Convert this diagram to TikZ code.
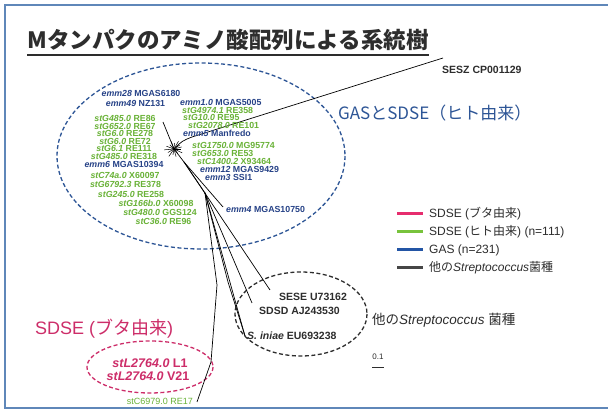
\documentclass[tikz,border=0pt]{standalone}
\usepackage{fontspec}
\setmainfont{Liberation Sans}
\newfontfamily\jp{Noto Sans CJK JP}
\definecolor{gtxt}{RGB}{105,178,55}
\definecolor{btxt}{RGB}{38,66,135}
\definecolor{pk}{RGB}{205,45,105}
\definecolor{ellc}{RGB}{45,85,150}
\definecolor{dk}{RGB}{45,45,45}
\definecolor{framec}{RGB}{95,135,185}
\definecolor{lgpk}{RGB}{230,45,110}
\definecolor{lggr}{RGB}{120,195,60}
\definecolor{lgbl}{RGB}{35,85,165}
\definecolor{lgdk}{RGB}{70,70,70}
\tikzset{
  sm/.style={inner sep=0pt, font=\fontsize{8.8}{9.5}\selectfont\bfseries},
  gl/.style={sm, text=gtxt},
  bl/.style={sm, text=btxt},
  blk/.style={inner sep=0pt, text=dk, font=\fontsize{10.5}{12}\selectfont\bfseries},
  lg/.style={inner sep=0pt, anchor=west, text=dk, font=\fontsize{12}{14}\selectfont},
  lgline/.style={line width=3pt},
  br/.style={line width=0.7pt, black},
  dsh/.style={dashed, dash pattern=on 4pt off 2.5pt, line width=1.3pt}
}
\begin{document}
\begin{tikzpicture}[x=1pt,y=-1pt]
\useasboundingbox (0,0) rectangle (608,419);
\fill[white] (0,0) rectangle (608,419);
\draw[framec, line width=1.2pt] (5,5) rectangle (615,408);

% title
\node[inner sep=0pt, text=dk, font=\jp\bfseries\fontsize{22.5}{24}\selectfont] (title) at (228,40) {Mタンパクのアミノ酸配列による系統樹};
\draw[dk, line width=1.3pt] ([yshift=-4pt]title.south west) -- ([yshift=-4pt]title.south east);

% ellipses
\draw[dsh, ellc] (201,156) ellipse [x radius=144, y radius=93];
\draw[dsh, dk] (301,314) ellipse [x radius=66, y radius=42];
\draw[dsh, pk] (150,367) ellipse [x radius=63, y radius=26];

% tree
\coordinate (c) at (174,149);
\coordinate (sz) at (443,58);
\coordinate (k1) at (192,137);
\coordinate (up) at (163,122);
\coordinate (q) at (184,162);
\coordinate (e4) at (223,207);
\coordinate (sese) at (270,290);
\coordinate (r) at (205,193);
\coordinate (sdsd) at (252,303);
\coordinate (s1) at (228,282);
\coordinate (ini) at (245,336);
\coordinate (u) at (217,285);
\coordinate (v) at (211,362);
\coordinate (stc) at (197,402);
\draw[br] (sz) -- (k1) .. controls (182,141) .. (c);
\draw[br] (up) -- (c);
\foreach \a/\l in {0/7,25/9,50/6,75/8,100/6,125/9,150/7,175/10,200/8,225/6,250/8,275/6,300/9,325/7,345/8}
  \draw[black, line width=0.5pt] (c) -- +(\a:\l);
\draw[br] (c) -- (q);
\draw[br] (q) -- (e4);
\draw[br] (q) -- (sese);
\draw[br] (q) -- (r);
\draw[br] (r) -- (sdsd);
\draw[br] (r) -- (ini);
\draw[br] (r) -- (s1) -- (ini);
\draw[br] (r) -- (u) -- (v) -- (stc);

% left column labels (green/blue)
\node[bl] (n1) at (141,93) {\textit{emm28} MGAS6180};
\node[bl] (n2) at (135.5,103) {\textit{emm49} NZ131};
\node[gl] (n3) at (125,118.5) {\textit{stG485.0} RE86};
\node[gl] (n4) at (125,126) {\textit{stG652.0} RE67};
\node[gl] (n5) at (125,133.5) {\textit{stG6.0} RE278};
\node[gl] (n6) at (125,141) {\textit{stG6.0} RE72};
\node[gl] (n7) at (124,148.5) {\textit{stG6.1} RE111};
\node[gl] (n8) at (124,156.5) {\textit{stG485.0} RE318};
\node[bl] (n9) at (124,164.5) {\textit{emm6} MGAS10394};
\node[gl] (n10) at (125,175) {\textit{stC74a.0} X60097};
\node[gl] (n11) at (125.5,184.5) {\textit{stG6792.3} RE378};
\node[gl] (n12) at (131,194) {\textit{stG245.0} RE258};
\node[gl] (n13) at (156,203) {\textit{stG166b.0} X60098};
\node[gl] (n14) at (160,212) {\textit{stG480.0} GGS124};
\node[gl] (n15) at (163.5,221.5) {\textit{stC36.0} RE96};

% right column
\node[bl, anchor=west] (m1) at (180,102.5) {\textit{emm1.0} MGAS5005};
\node[gl, anchor=west] (m2) at (182,110) {\textit{stG4974.1} RE358};
\node[gl, anchor=west] (m3) at (183,117.5) {\textit{stG10.0} RE95};
\node[gl, anchor=west] (m4) at (188,125) {\textit{stG2078.0} RE101};
\node[bl, anchor=west] (m5) at (183,133) {\textit{emm5} Manfredo};
\node[gl, anchor=west] (m6) at (192,145) {\textit{stG1750.0} MG95774};
\node[gl, anchor=west] (m7) at (192,153) {\textit{stG653.0} RE53};
\node[gl, anchor=west] (m8) at (197,161) {\textit{stC1400.2} X93464};
\node[bl, anchor=west] (m9) at (200,169.5) {\textit{emm12} MGAS9429};
\node[bl, anchor=west] (m10) at (205,177.5) {\textit{emm3} SSI1};
\node[bl, anchor=west] (m11) at (226,209) {\textit{emm4} MGAS10750};

% other labels
\node[blk, anchor=west] (sesz) at (442,70) {SESZ CP001129};
\node[inner sep=0pt, anchor=west, text=ellc, font=\jp\fontsize{17}{19}\selectfont] (gas) at (338,113) {GASとSDSE（ヒト由来）};
\node[blk, anchor=west] (l1) at (279,297) {SESE U73162};
\node[blk, anchor=west] (l2) at (259,311) {SDSD AJ243530};
\node[blk, anchor=west] (l3) at (247,336) {\textit{S. iniae} EU693238};
\node[inner sep=0pt, anchor=west, text=dk, font=\fontsize{13.5}{15}\selectfont] (oth) at (372,320) {{\jp 他の}\textit{Streptococcus} {\jp 菌種}};

\node[inner sep=0pt, anchor=west, text=pk, font=\fontsize{18}{20}\selectfont] (pig) at (35,329) {SDSE ({\jp ブタ由来})};
\node[inner sep=0pt, text=pk, font=\fontsize{12.5}{14}\selectfont\bfseries] (p1) at (150,363) {\textit{stL2764.0} L1};
\node[inner sep=0pt, text=pk, font=\fontsize{12.5}{14}\selectfont\bfseries] (p2) at (148,376) {\textit{stL2764.0} V21};
\node[inner sep=0pt, anchor=east, text=gtxt, font=\fontsize{9}{10}\selectfont] (p3) at (193,401) {stC6979.0 RE17};

% legend
\coordinate (a1) at (397,214); \coordinate (b1) at (423,214);
\coordinate (a2) at (397,232); \coordinate (b2) at (423,232);
\coordinate (a3) at (397,250); \coordinate (b3) at (423,250);
\coordinate (a4) at (397,268); \coordinate (b4) at (423,268);
\draw[lgline, lgpk] (a1) -- (b1);
\draw[lgline, lggr] (a2) -- (b2);
\draw[lgline, lgbl] (a3) -- (b3);
\draw[lgline, lgdk] (a4) -- (b4);
\node[lg] (t1) at (429,214) {SDSE ({\jp ブタ由来})};
\node[lg] (t2) at (429,232) {SDSE ({\jp ヒト由来}) (n=111)};
\node[lg] (t3) at (429,250) {GAS (n=231)};
\node[lg] (t4) at (429,268) {{\jp 他の}\textit{Streptococcus}{\jp 菌種}};

% scale
\node[inner sep=0pt, text=dk, font=\fontsize{8}{9}\selectfont] (sc) at (378,357) {0.1};
\coordinate (s0) at (372,367); \coordinate (s1b) at (384,367);
\draw[dk, line width=0.8pt] (s0) -- (s1b);
\end{tikzpicture}
\end{document}
